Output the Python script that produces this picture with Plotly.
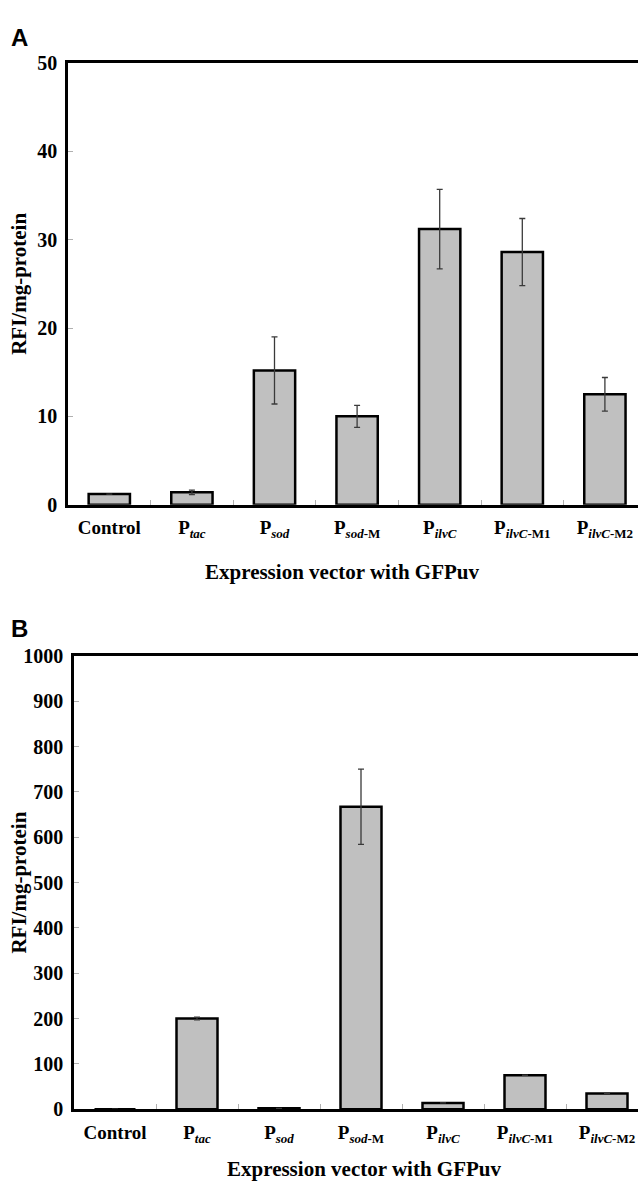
import plotly.graph_objects as go

# ---- data ----
categories = ["Control", "P<sub><i>tac</i></sub>", "P<sub><i>sod</i></sub>",
              "P<sub><i>sod</i>-M</sub>", "P<sub><i>ilvC</i></sub>",
              "P<sub><i>ilvC</i>-M1</sub>", "P<sub><i>ilvC</i>-M2</sub>"]
values_a = [1.2, 1.4, 15.2, 10.0, 31.2, 28.6, 12.5]
errors_a = [0, 0.25, 3.8, 1.25, 4.5, 3.8, 1.9]
values_b = [0, 200, 2, 667, 14, 75, 35]
errors_b = [0, 3, 0, 83, 0, 0, 0]
yticks_a = [0, 10, 20, 30, 40, 50]
yticks_b = [0, 100, 200, 300, 400, 500, 600, 700, 800, 900, 1000]
ylabel = "RFI/mg-protein"
xlabel = "Expression vector with GFPuv"

W, H = 638, 1188
SERIF = "Liberation Serif, Times New Roman, serif"
xpos = list(range(len(categories)))
bounds = [i + 0.5 for i in range(len(categories) - 1)]
ticktext = [c.replace("<sub>", "<sub><span style='font-size:13px'>").replace("</sub>", "</span></sub>")
            for c in categories]


def py(y):
    return 1 - y / H


fig = go.Figure()
for vals, errs, xa, ya in [(values_a, errors_a, "x", "y"), (values_b, errors_b, "x2", "y2")]:
    fig.add_trace(go.Bar(
        x=xpos, y=vals, width=0.5, xaxis=xa, yaxis=ya,
        marker=dict(color="#c0c0c0", line=dict(color="black", width=2.5)),
        error_y=dict(type="data", array=errs, visible=True, color="#3a3a3a",
                     thickness=1.3, width=3),
        showlegend=False,
    ))

xtickfont = dict(family=SERIF, size=19, color="black", weight="bold")
ytickfont = dict(family=SERIF, size=20, color="black", weight="bold")


def xaxis(x0, rng, anchor):
    return dict(domain=[x0 / W, 1], range=rng, anchor=anchor,
                tickmode="array", tickvals=xpos, ticktext=ticktext,
                ticks="", showgrid=False, zeroline=False,
                showline=True, linecolor="black", linewidth=2.6, mirror=True,
                tickfont=xtickfont, ticklabelstandoff=4,
                minor=dict(tickmode="array", tickvals=bounds, ticks="inside",
                           ticklen=5, tickwidth=1, tickcolor="#b0b0b0", showgrid=False))


def yaxis(top, bottom, rng, tv, anchor):
    return dict(domain=[py(bottom), py(top)], range=rng, anchor=anchor,
                tickmode="array", tickvals=tv, ticks="inside", ticklen=5,
                tickwidth=1, tickcolor="#b0b0b0", showgrid=False, zeroline=False,
                showline=True, linecolor="black", linewidth=2.6,
                tickfont=ytickfont, ticklabelstandoff=4)


fig.update_layout(
    width=W, height=H, margin=dict(l=0, r=0, t=0, b=0),
    paper_bgcolor="white", plot_bgcolor="white",
    xaxis=xaxis(68, [-0.5, -0.5 + 570 / 82.6], "y"),
    yaxis=yaxis(53, 503, [0, 50], yticks_a, "x"),
    xaxis2=xaxis(74, [-0.5, -0.5 + 564 / 82.0], "y2"),
    yaxis2=yaxis(657, 1119, [0, 1000], yticks_b, "x2"),
    bargap=0.5,
)

ann = []
titlefont = dict(family=SERIF, size=21, color="black", weight="bold")
for letter, y in [("A", 27), ("B", 629)]:
    ann.append(dict(text=letter, x=20 / W, y=py(y), xref="paper", yref="paper",
                    showarrow=False, xanchor="center", yanchor="middle",
                    font=dict(family="Liberation Sans, Arial, sans-serif", size=24,
                              color="black", weight="bold")))
for yc in [278, 888]:
    ann.append(dict(text=ylabel, x=19 / W, y=py(yc), xref="paper", yref="paper",
                    showarrow=False, textangle=-90, xanchor="center", yanchor="middle",
                    font=titlefont))
for xc, yc in [(342, 572), (364, 1180)]:
    ann.append(dict(text=xlabel, x=xc / W, y=py(yc), xref="paper", yref="paper",
                    showarrow=False, xanchor="center", yanchor="middle", font=titlefont))
fig.update_layout(annotations=ann)

fig.write_html("out.html", config={"displayModeBar": False},
               post_script="document.body.style.margin='0px';document.body.style.overflow='hidden';")
